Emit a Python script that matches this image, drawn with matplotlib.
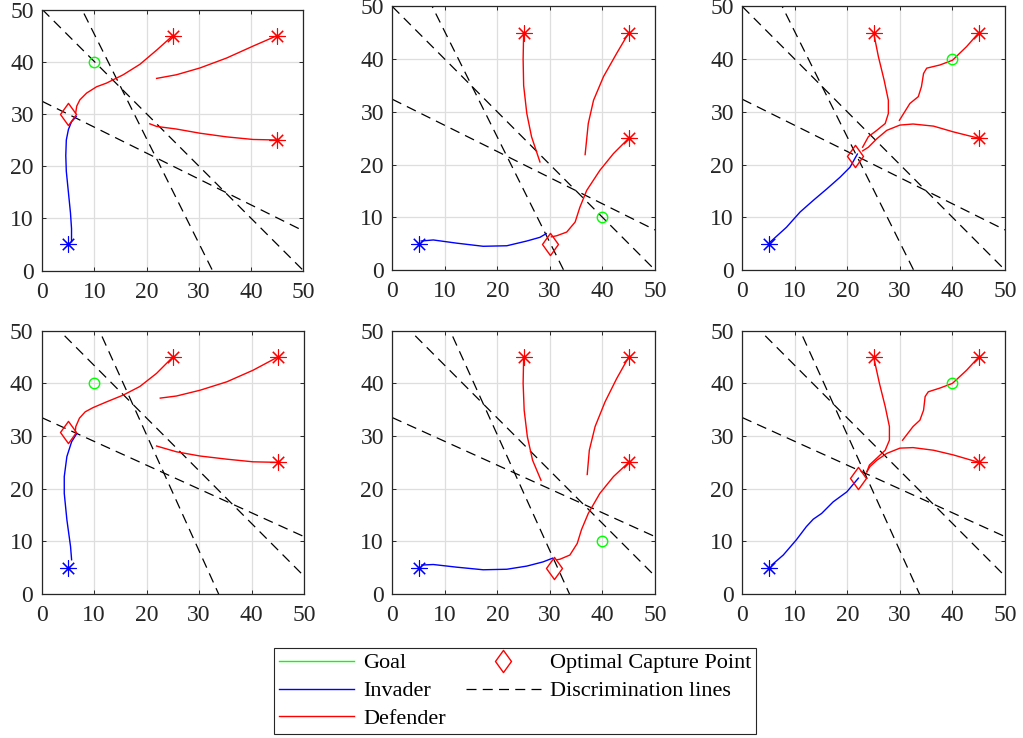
import numpy as np
import matplotlib
matplotlib.use("Agg")
import matplotlib.pyplot as plt
from matplotlib.lines import Line2D
from matplotlib.path import Path

plt.rcParams['font.family'] = ['Liberation Serif', 'DejaVu Serif']
plt.rcParams['mathtext.fontset'] = 'stix'

# ---------------- data ----------------
goal_x = [10, 40, 40, 10, 40, 40]
goal_y = [40, 10, 40, 40, 10, 40]
invader_start_x = [5, 5, 5, 5, 5, 5]
invader_start_y = [5, 5, 5, 5, 5, 5]
defender_start_x = [25, 45, 45]
defender_start_y = [45, 45, 25]
capture_x = [5.0, 30.0, 21.5, 5.0, 30.8, 22.0]
capture_y = [30.0, 5.0, 21.7, 30.8, 5.0, 22.1]

# discrimination lines y = icpt + slope * x (top row / bottom row)
disc_top_slope = [-1.0, -2.0, -0.496]
disc_top_icpt = [50.0, 65.2, 32.4]
disc_bot_slope = [-1.0, -2.2, -0.452]
disc_bot_icpt = [53.4, 74.2, 33.5]

# invader trajectories
inv1_x = [5.6, 5.6, 5.4, 5.0, 4.6, 4.5, 4.6, 5.0, 5.6, 6.5]
inv1_y = [5.5, 8.0, 11.0, 15.0, 19.0, 22.0, 25.0, 27.0, 28.5, 29.5]
inv2_x = [5.5, 7.8, 12.2, 17.3, 21.8, 25.6, 28.1, 29.3]
inv2_y = [5.5, 5.7, 5.1, 4.5, 4.6, 5.5, 6.2, 6.9]
inv3_x = [5.3, 8.4, 11.0, 13.5, 16.1, 18.6, 20.5, 21.9]
inv3_y = [5.3, 8.1, 11.0, 13.2, 15.4, 17.6, 19.5, 22.0]
inv4_x = [5.7, 5.5, 4.8, 4.3, 4.3, 4.8, 5.7, 6.7]
inv4_y = [6.5, 9.0, 14.1, 19.1, 22.3, 26.1, 28.9, 30.5]
inv5_x = [5.6, 7.8, 12.2, 17.3, 21.8, 25.6, 28.7, 30.5]
inv5_y = [5.5, 5.6, 5.1, 4.6, 4.7, 5.3, 6.1, 6.8]
inv6_x = [5.6, 7.8, 10.3, 12.2, 13.5, 15.1, 17.3, 19.9, 22.1]
inv6_y = [5.5, 7.4, 10.3, 12.8, 14.2, 15.3, 17.5, 19.4, 22.0]

# defender trajectories (a: from (25,45), b: from (45,45), c: from (45,25))
d1a_x = [25, 22.0, 18.7, 15.5, 12.3, 10.4, 8.5, 7.2, 6.6, 6.4]
d1a_y = [45, 42.3, 39.5, 37.5, 35.9, 35.2, 34.0, 32.7, 31.5, 30.2]
d1b_x = [45, 40.4, 35.3, 30.2, 25.7, 21.9]
d1b_y = [45, 43.0, 40.7, 38.8, 37.5, 36.8]
d1c_x = [45, 40.4, 35.3, 30.2, 25.7, 21.9, 20.6]
d1c_y = [25, 25.1, 25.6, 26.3, 27.1, 27.6, 28.1]

d2a_x = [25, 24.9, 25.0, 25.6, 26.5, 28.1]
d2a_y = [45, 40.0, 35.0, 29.7, 25.3, 20.5]
d2b_x = [45, 42.7, 40.2, 38.3, 37.3, 36.7]
d2b_y = [45, 41.1, 36.7, 32.2, 27.8, 21.9]
d2c_x = [45, 42.1, 39.5, 37.0, 35.7, 34.8, 33.2, 31.3, 30.3]
d2c_y = [25, 22.1, 18.9, 15.1, 11.9, 9.1, 7.2, 6.5, 6.3]

d3a_x = [25, 25.9, 27.0, 27.8, 27.8, 27.2, 25.6, 24.0, 22.9]
d3a_y = [45, 40.5, 36.0, 32.2, 29.7, 27.8, 26.5, 25.3, 23.3]
d3b_x = [45, 42.7, 40.0, 37.6, 35.1, 34.5, 34.1, 33.5, 31.9, 29.9]
d3b_y = [45, 42.4, 39.8, 38.9, 38.3, 37.3, 34.8, 32.9, 31.6, 28.4]
d3c_x = [45, 40.2, 36.4, 32.5, 30.0, 27.5, 25.6, 24.0, 22.9]
d3c_y = [25, 26.2, 27.3, 27.7, 27.5, 26.5, 24.9, 23.3, 22.6]

d4a_x = [25, 21.9, 18.7, 15.6, 12.4, 9.8, 8.3, 7.2, 6.5, 6.4]
d4a_y = [45, 41.9, 39.4, 37.8, 36.5, 35.4, 34.6, 33.4, 31.8, 30.8]
d4b_x = [45, 40.3, 35.3, 30.2, 25.7, 22.6]
d4b_y = [45, 42.5, 40.3, 38.7, 37.6, 37.2]
d4c_x = [45, 40.3, 35.3, 30.2, 25.7, 21.9]
d4c_y = [25, 25.1, 25.6, 26.2, 27.0, 28.1]

d5a_x = [25, 24.9, 25.1, 25.7, 26.7, 28.3]
d5a_y = [45, 40.0, 34.9, 29.9, 25.4, 21.6]
d5b_x = [45, 42.7, 40.5, 38.6, 37.5, 37.1]
d5b_y = [45, 40.9, 36.5, 31.8, 27.3, 22.7]
d5c_x = [45, 42.1, 39.5, 37.3, 36.0, 35.2, 33.8, 31.9, 31.3]
d5c_y = [25, 22.3, 19.1, 15.3, 12.2, 9.6, 7.4, 6.6, 6.5]

d6a_x = [25, 26.1, 27.2, 28.0, 28.0, 27.2, 25.6, 24.2, 23.7]
d6a_y = [45, 40.0, 35.6, 31.8, 29.2, 27.3, 25.8, 24.5, 23.2]
d6b_x = [45, 42.7, 40.0, 37.6, 35.4, 34.8, 34.5, 33.8, 32.5, 30.5]
d6b_y = [45, 42.5, 40.0, 39.1, 38.4, 37.5, 34.9, 33.0, 31.8, 29.2]
d6c_x = [45, 40.2, 36.4, 32.5, 30.0, 27.5, 25.6, 24.3, 23.7]
d6c_y = [25, 26.4, 27.3, 27.8, 27.7, 26.7, 25.4, 24.2, 23.2]

invaders = [(inv1_x, inv1_y), (inv2_x, inv2_y), (inv3_x, inv3_y),
            (inv4_x, inv4_y), (inv5_x, inv5_y), (inv6_x, inv6_y)]
defenders = [
    [(d1a_x, d1a_y), (d1b_x, d1b_y), (d1c_x, d1c_y)],
    [(d2a_x, d2a_y), (d2b_x, d2b_y), (d2c_x, d2c_y)],
    [(d3a_x, d3a_y), (d3b_x, d3b_y), (d3c_x, d3c_y)],
    [(d4a_x, d4a_y), (d4b_x, d4b_y), (d4c_x, d4c_y)],
    [(d5a_x, d5a_y), (d5b_x, d5b_y), (d5c_x, d5c_y)],
    [(d6a_x, d6a_y), (d6b_x, d6b_y), (d6c_x, d6c_y)],
]
ticks = [0, 10, 20, 30, 40, 50]

# ---------------- layout / style ----------------
W, H = 1023, 738
fig = plt.figure(figsize=(W / 100, H / 100), dpi=100)

# axes boxes in pixels: left, top, width, height
boxes = [
    (42.3, 9.5, 261.0, 261.0),
    (392.3, 6.5, 262.7, 263.5),
    (742.3, 6.5, 262.7, 263.5),
    (41.7, 330.7, 262.3, 263.3),
    (392.3, 330.7, 262.7, 263.3),
    (742.3, 330.7, 262.7, 263.3),
]

AXC = (0.15, 0.15, 0.15)
DASH = (0, (8, 5))
asterisk = (8, 2, 0)
diamond = Path([(0, 1), (0.72, 0), (0, -1), (-0.72, 0), (0, 1)],
               [Path.MOVETO, Path.LINETO, Path.LINETO, Path.LINETO, Path.CLOSEPOLY])

for i, (l, t, w, h) in enumerate(boxes):
    ax = fig.add_axes([l / W, 1 - (t + h) / H, w / W, h / H])
    ax.set_xlim(0, 50)
    ax.set_ylim(0, 50)
    ax.set_xticks(ticks)
    ax.set_yticks(ticks)
    ax.grid(True, color=(0.87, 0.87, 0.87), linewidth=0.9)
    ax.set_axisbelow(True)
    for sp in ax.spines.values():
        sp.set_color(AXC)
        sp.set_linewidth(0.9)
    ax.tick_params(direction='in', top=True, right=True, length=3, width=0.7,
                   color=AXC, labelcolor=AXC, labelsize=17)
    ax.tick_params(axis='x', pad=8)
    ax.tick_params(axis='y', pad=6)

    slopes = disc_top_slope if i < 3 else disc_bot_slope
    icpts = disc_top_icpt if i < 3 else disc_bot_icpt
    xs = np.array([0.0, 50.0])
    for s, c in zip(slopes, icpts):
        ax.plot(xs, c + s * xs, color='k', linestyle=DASH, linewidth=0.9)

    ix, iy = invaders[i]
    ax.plot(ix, iy, color='b', linewidth=1.0)
    for dx, dy in defenders[i]:
        ax.plot(dx, dy, color='r', linewidth=1.0)

    ax.plot(goal_x[i], goal_y[i], linestyle='none', marker='o', markersize=7.5,
            markerfacecolor='none', markeredgecolor=(0, 1, 0), markeredgewidth=1.0)
    ax.plot(invader_start_x[i], invader_start_y[i], linestyle='none', marker=asterisk,
            markersize=11.5, color='b', markeredgewidth=0.8)
    ax.plot(defender_start_x, defender_start_y, linestyle='none', marker=asterisk,
            markersize=11.5, color='r', markeredgewidth=0.8)
    ax.plot(capture_x[i], capture_y[i], linestyle='none', marker=diamond, markersize=16,
            markerfacecolor='none', markeredgecolor='r', markeredgewidth=1.0)

handles = [
    Line2D([], [], color=(0, 1, 0), linewidth=1.0),
    Line2D([], [], color='b', linewidth=1.0),
    Line2D([], [], color='r', linewidth=1.0),
    Line2D([], [], linestyle='none', marker=diamond, markersize=16,
           markerfacecolor='none', markeredgecolor='r', markeredgewidth=1.0),
    Line2D([], [], color='k', linestyle=DASH, linewidth=0.9),
]
labels = ['Goal', 'Invader', 'Defender', 'Optimal Capture Point', 'Discrimination lines']
leg = fig.legend(handles, labels, ncol=2, loc='center',
                 bbox_to_anchor=((267 + 763) / 2 / W, 1 - (646 + 736) / 2 / H),
                 fontsize=16, frameon=True, fancybox=False, framealpha=1,
                 edgecolor=AXC, handlelength=3.4, handletextpad=0.4,
                 labelspacing=0.33, columnspacing=0.9, borderpad=0.22,
                 borderaxespad=0)
leg.get_frame().set_linewidth(0.8)

fig.savefig('out.png', dpi=100)
